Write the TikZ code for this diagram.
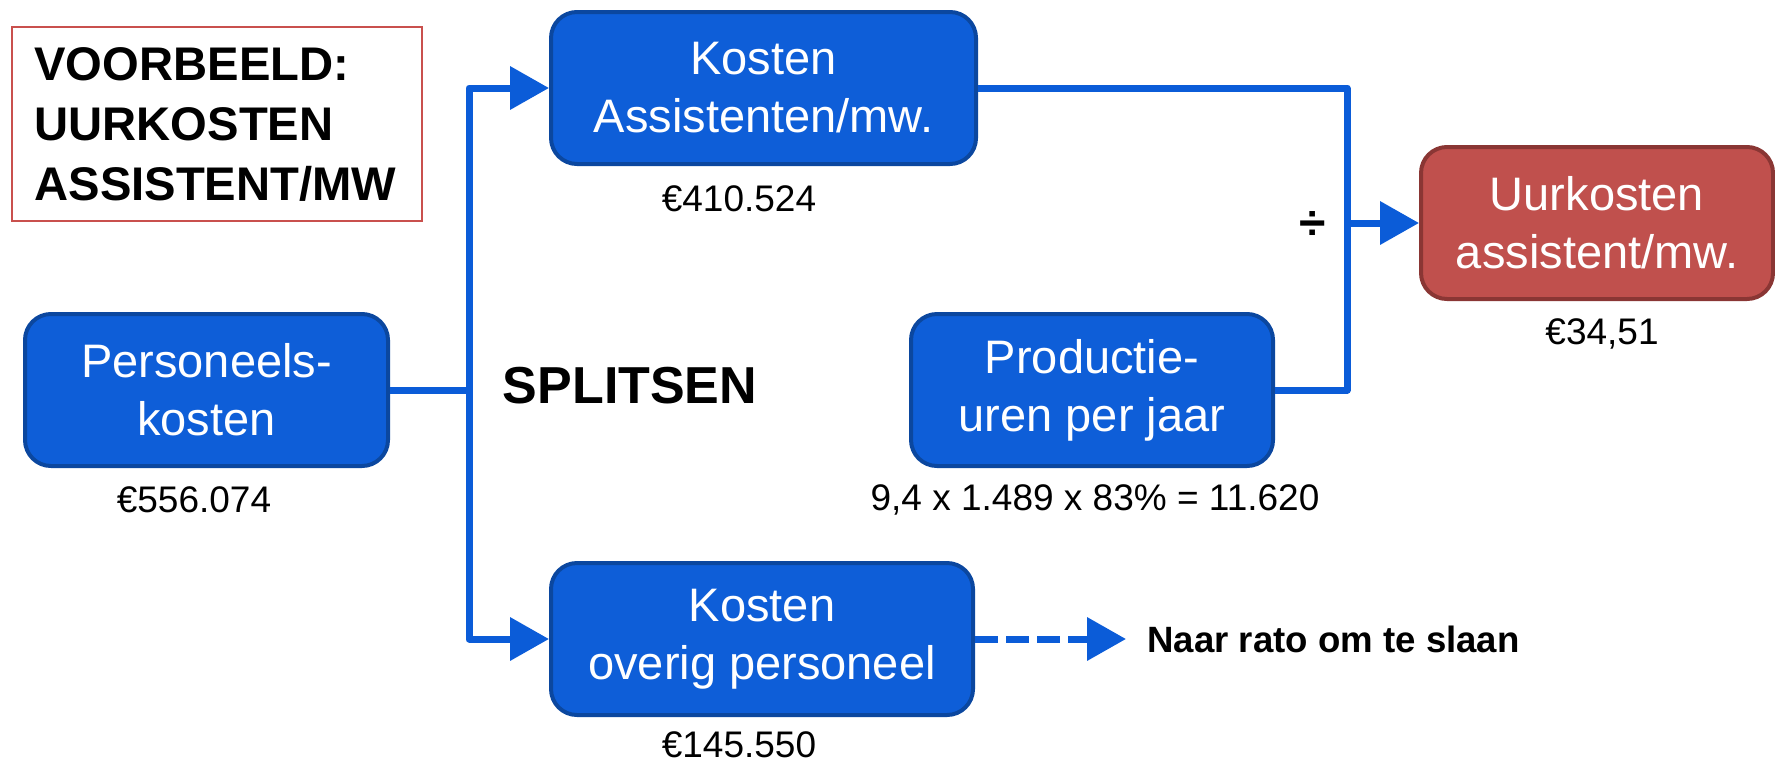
\documentclass[tikz,border=0pt]{standalone}
\usepackage{fontspec}
\setmainfont{Liberation Sans}
\usetikzlibrary{arrows.meta}

\definecolor{blokblauw}{HTML}{0E5ED8}
\definecolor{blokrand}{HTML}{0B479F}
\definecolor{lijnblauw}{HTML}{0B5CD8}
\definecolor{uurrood}{HTML}{C0504D}
\definecolor{uurrand}{HTML}{8A3634}
\definecolor{kaderrood}{HTML}{C9504D}

\tikzset{
  blok/.style={draw=blokrand, fill=blokblauw, line width=2pt, rounded corners=13pt,
    text=white, align=center, minimum height=76pt, inner sep=0pt,
    font=\fontsize{23.5}{29}\selectfont},
  lijn/.style={draw=lijnblauw, line width=3.5pt, line join=round},
  pijl/.style={lijn, -{Triangle[length=19.5pt,width=21pt]}},
  bedrag/.style={font=\fontsize{18.5}{22}\selectfont, inner sep=0pt},
}

\begin{document}
\begin{tikzpicture}[x=0.5pt,y=-0.5pt]
\useasboundingbox (0,0) rectangle (1775,766);
% kader linksboven
\node[draw=kaderrood, line width=1pt, minimum height=97pt, text width=182pt,
  align=left, inner xsep=11.5pt, font=\bfseries\fontsize{23.6}{30}\selectfont]
  (voorbeeld) at (216.5,124) {VOORBEELD:\\UURKOSTEN\\ASSISTENT/MW};
% blokken
\node[blok, minimum width=181.5pt] (pk) at (206.5,390) {Personeels-\\kosten};
\node[blok, minimum width=212.5pt] (ka) at (763.5,88) {Kosten\\Assistenten/mw.};
\node[blok, minimum width=211pt] (ko) at (762,639) {Kosten\\overig personeel};
\node[blok, minimum width=181pt] (pu) at (1092,390) {Productie-\\uren per jaar};
\node[blok, minimum width=176pt, fill=uurrood, draw=uurrand] (uk) at (1597,223) {Uurkosten\\assistent/mw.};
% bedragen
\node[bedrag] (pkbedrag) at (194,500) {€556.074};
\node[bedrag] (kabedrag) at (739,199) {€410.524};
\node[bedrag] (kobedrag) at (739,745) {€145.550};
\node[bedrag] (pubedrag) at (1095,500) {9,4 x 1.489 x 83\% = 11.620};
\node[bedrag] (ukbedrag) at (1602,334) {€34,51};
% losse teksten
\node[font=\bfseries\fontsize{26}{30}\selectfont, inner sep=0pt] (splitsen) at (630,386) {SPLITSEN};
\node[font=\bfseries\fontsize{24}{28}\selectfont, inner sep=0pt] (deel) at (1313,226) {÷};
\node[font=\bfseries\fontsize{18.3}{22}\selectfont, inner sep=0pt, anchor=west] (naar) at (1147,639) {Naar rato om te slaan};
% verbindingen
\coordinate (split) at (469,390);
\coordinate (merge) at (1347,223);
\coordinate (naarpunt) at ([xshift=-10.5pt]naar.west);
\draw[lijn] (pk.east) -- (split);
\draw[pijl] (split) |- (ka.west);
\draw[pijl] (split) |- (ko.west);
\draw[lijn] (ka.east) -| (merge) |- (pu.east);
\draw[pijl] (merge) -- (uk.west);
\draw[pijl, dash pattern=on 11.5pt off 4pt] (ko.east) -- (ko.east -| naarpunt);
\end{tikzpicture}
\end{document}
